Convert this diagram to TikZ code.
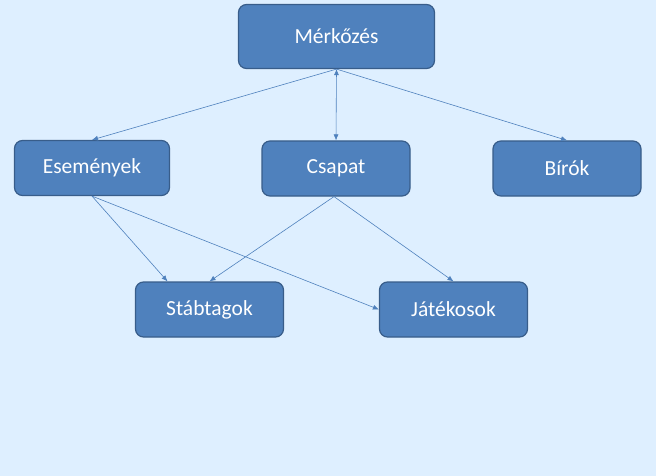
\documentclass[tikz,border=0pt]{standalone}
\usepackage{fontspec}
\setmainfont{Carlito}
\usetikzlibrary{arrows.meta}
\definecolor{hatter}{RGB}{222,239,255}
\definecolor{doboz}{RGB}{79,129,189}
\definecolor{keret}{RGB}{56,93,138}
\begin{document}
\begin{tikzpicture}[x=1pt,y=-1pt,
  box/.style={draw=keret,fill=doboz,line width=1.2pt,rounded corners=8pt,
    text=white,font=\fontsize{21.5}{24}\selectfont,minimum width=148pt,minimum height=55pt},
  nyil/.style={draw=doboz,line width=0.6pt,-{Latex[length=6pt,width=5pt]}}]
\fill[hatter] (0,0) rectangle (656,476);

\node[box,minimum width=196pt,minimum height=64pt] (M) at (336.5,36.5) {Mérkőzés};
\node[box,minimum width=155pt] (E) at (92,168) {Események};
\node[box] (C) at (336,168.5) {Csapat};
\node[box] (B) at (567,168.5) {Bírók};
\node[box] (S) at (209.5,309.5) {Stábtagok};
\node[box] (J) at (453.5,309.5) {Játékosok};

\draw[nyil] (M.south) -- (E.north);
\draw[nyil,{Latex[length=6pt,width=5pt]}-{Latex[length=6pt,width=5pt]}] (M.south) -- (C.north);
\draw[nyil] (M.south) -- (B.north);

\draw[nyil] (E.south) -- ([xshift=-42pt]S.north);
\draw[nyil] (E.south) -- (J.west);
\draw[nyil] ([xshift=-2pt]C.south) -- (S.north);
\draw[nyil] ([xshift=-2pt]C.south) -- (J.north);
\end{tikzpicture}
\end{document}
